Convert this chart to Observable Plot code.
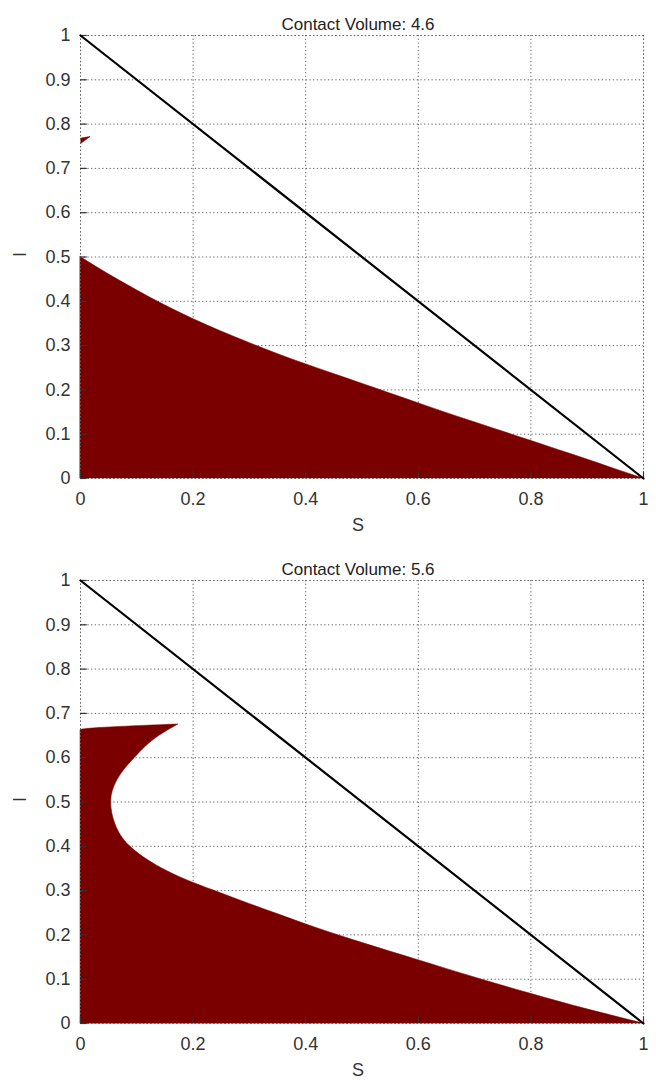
<!DOCTYPE html>
<html>
<head>
<meta charset="utf-8">
<script src="https://cdn.jsdelivr.net/npm/d3@7"></script>
<script src="https://cdn.jsdelivr.net/npm/@observablehq/plot@0.6"></script>
<style>
  html, body { margin: 0; padding: 0; background: #fff; }
  #wrap { width: 656px; }
  svg { display: block; }
</style>
</head>
<body>
<div id="wrap"></div>
<script>
// ---- data ----
const titles = ["Contact Volume: 4.6", "Contact Volume: 5.6"];
const xTicks = [0, 0.2, 0.4, 0.6, 0.8, 1];
const yTicks = [0, 0.1, 0.2, 0.3, 0.4, 0.5, 0.6, 0.7, 0.8, 0.9, 1];
const xLabel = "S";
const yLabel = "I";

// diagonal S + I = 1
const diagS = [0, 1];
const diagI = [1, 0];

// panel 1: upper boundary of the filled region (filled down to I = 0)
const topS = [0, 0.05, 0.1, 0.15, 0.2, 0.25, 0.3, 0.35, 0.4, 0.45, 0.5, 0.55, 0.6, 0.65, 0.7, 0.75, 0.8, 0.85, 0.9, 0.95, 1];
const topI = [0.5, 0.461, 0.425, 0.391, 0.36, 0.332, 0.306, 0.281, 0.258, 0.236, 0.214, 0.192, 0.17, 0.148, 0.127, 0.106, 0.085, 0.064, 0.043, 0.021, 0];
// panel 1: tiny region near S=0, I≈0.76
const blipS = [0, 0.017, 0.004, 0];
const blipI = [0.756, 0.772, 0.769, 0.768];

// panel 2: region bounded, for each I, between a left edge and a right boundary
const botI      = [0, 0.032, 0.067, 0.104, 0.143, 0.182, 0.205, 0.224, 0.247, 0.27, 0.3, 0.323, 0.35, 0.4, 0.45, 0.5, 0.55, 0.6, 0.65, 0.662, 0.675];
const botRightS = [1, 0.9, 0.8, 0.7, 0.6, 0.5, 0.444, 0.4, 0.35, 0.3, 0.237, 0.19, 0.145, 0.088, 0.062, 0.0545, 0.066, 0.097, 0.141, 0.156, 0.174];
const botLeftS  = [0, 0, 0, 0, 0, 0, 0, 0, 0, 0, 0, 0, 0, 0, 0, 0, 0, 0, 0, 0, 0.174];

const RED = "#7a0000";
const FONT = "'Liberation Sans', Arial, Helvetica, sans-serif";

function panel(title, regionMarks, marginTop, marginBottom) {
  const dots = {stroke: "#666", strokeWidth: 1, strokeDasharray: "1.3,2.4"};
  return Plot.plot({
    width: 656,
    height: marginTop + 443 + marginBottom,
    marginTop, marginBottom,
    marginLeft: 80, marginRight: 13,
    style: {fontFamily: FONT, fontSize: "18px", color: "#333", background: "#fff"},
    x: {domain: [0, 1], ticks: xTicks, label: null},
    y: {domain: [0, 1], ticks: yTicks, label: null},
    marks: [
      Plot.ruleX(xTicks, dots),
      Plot.ruleY(yTicks, dots),
      ...regionMarks,
      Plot.ruleX([0, 1], dots),
      Plot.ruleY([0, 1], dots),
      Plot.ruleY(yTicks, {x1: 0, x2: 0.012, stroke: "#333", strokeWidth: 1.2}),
      Plot.ruleX(xTicks, {y1: 0, y2: 0.015, stroke: "#333", strokeWidth: 1.2}),
      Plot.line(diagS.map((s, i) => ({S: s, I: diagI[i]})), {x: "S", y: "I", stroke: "#000", strokeWidth: 2.2}),
      Plot.axisX(xTicks, {tickSize: 0, tickPadding: 14, tickFormat: d => String(d), fontSize: 18, fill: "#333"}),
      Plot.axisY(yTicks, {tickSize: 0, tickPadding: 10, tickFormat: d => String(d), fontSize: 18, fill: "#333"}),
      Plot.text([xLabel], {text: d => d, frameAnchor: "bottom", dy: 52, dx: -4, fontSize: 18, fill: "#333"}),
      Plot.text([yLabel], {text: d => d, frameAnchor: "left", dx: -60, rotate: -90, fontSize: 18, fill: "#333"}),
      Plot.text([title], {text: d => d, frameAnchor: "top", dy: -17.5, dx: -4, fontSize: 17, fill: "#222"})
    ]
  });
}

const topRows = topS.map((s, i) => ({S: s, I: topI[i]}));
const blipRows = blipS.map((s, i) => ({S: s, I: blipI[i]}));
const botRows = botI.map((v, i) => ({I: v, L: botLeftS[i], R: botRightS[i]}));

const topMarks = [
  Plot.areaY(topRows, {x: "S", y: "I", fill: RED, stroke: RED, strokeWidth: 0.5, curve: "monotone-x"}),
  Plot.line(blipRows, {x: "S", y: "I", fill: RED, stroke: RED, strokeWidth: 0.6})
];
const botMarks = [
  Plot.areaX(botRows, {y: "I", x1: "L", x2: "R", fill: RED, stroke: RED, strokeWidth: 0.5, curve: "monotone-y"})
];

const wrap = document.getElementById("wrap");
wrap.appendChild(panel(titles[0], topMarks, 35, 62));
wrap.appendChild(panel(titles[1], botMarks, 40, 60));
</script>
</body>
</html>
